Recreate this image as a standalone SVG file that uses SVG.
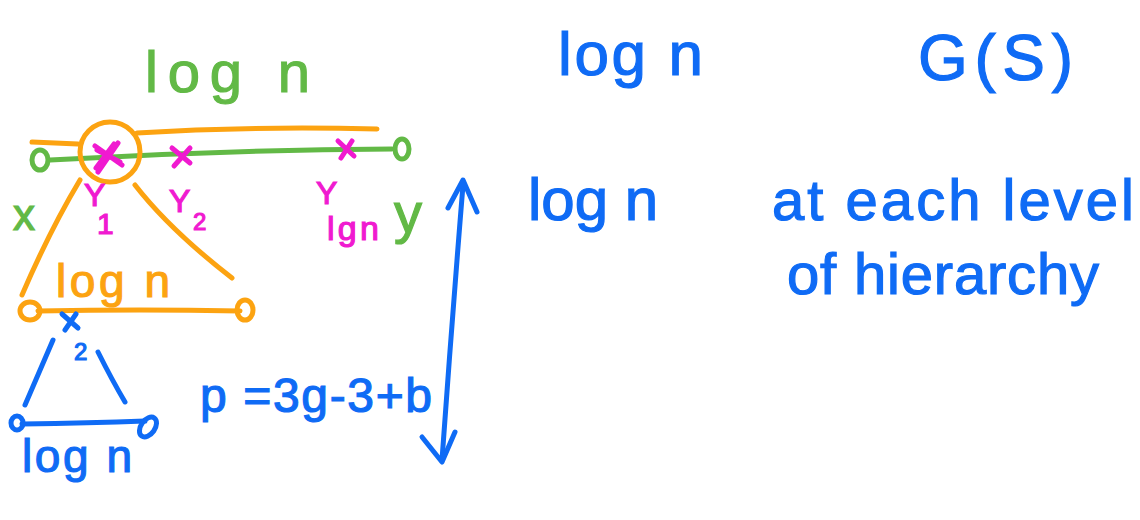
<svg xmlns="http://www.w3.org/2000/svg" width="1140" height="520" viewBox="0 0 1140 520">
<style>
.s{fill:none;stroke-width:5;stroke-linecap:round;stroke-linejoin:round}
.g{stroke:#62b946}.o{stroke:#fca311}.m{stroke:#f01ad0}.b{stroke:#0f6bf5}
.t{font-family:"Liberation Sans","DejaVu Sans",sans-serif;stroke-width:1.2}
.tg{fill:#62b946;stroke:#62b946}.to{fill:#fca311;stroke:#fca311}.tm{fill:#f01ad0;stroke:#f01ad0}.tb{fill:#0f6bf5;stroke:#0f6bf5}
</style>
<rect width="1140" height="520" fill="#fff"/>
<g id="level1">
<text class="t tg" x="145" y="92" font-size="58" textLength="165">log n</text>
<path class="s o" d="M32 142 L78 144"/>
<path class="s o" d="M137 133 Q250 126 377 129"/>
<path class="s g" d="M50 160 Q220 150 392 149"/>
<ellipse class="s g" cx="40" cy="160" rx="8" ry="10"/>
<ellipse class="s g" cx="402" cy="149" rx="7" ry="10"/>
<circle class="s o" cx="110" cy="152" r="30"/>
<path class="s m" d="M95 146 L122 165 M97 150 L120 162 M118 143 L98 172 M114 144 L96 168" stroke-width="6"/>
<path class="s m" d="M172 148 L190 163 M190 148 L174 166"/>
<path class="s m" d="M338 141 L354 156 M352 141 L341 158"/>
<text class="t tg" x="13" y="230" font-size="44">x</text>
<text class="t tg" x="394" y="232" font-size="56">y</text>
<text class="t tm" x="84" y="206" font-size="32">Y</text>
<text class="t tm" x="97" y="234" font-size="30">1</text>
<text class="t tm" x="169" y="212" font-size="32">Y</text>
<text class="t tm" x="193" y="230" font-size="24">2</text>
<text class="t tm" x="316" y="204" font-size="32">Y</text>
<text class="t tm" x="327" y="240" font-size="34" textLength="52">lgn</text>
</g>
<g id="level2">
<path class="s o" d="M80 180 Q50 230 22 295"/>
<path class="s o" d="M135 185 Q170 230 232 278"/>
<text class="t to" x="56" y="297" font-size="46" textLength="114">log n</text>
<path class="s o" d="M38 311 Q140 309 240 311"/>
<ellipse class="s o" cx="30" cy="311" rx="10" ry="9"/>
<ellipse class="s o" cx="245" cy="310" rx="8" ry="10"/>
</g>
<g id="level3">
<path class="s b" d="M62 314 L78 328 M76 314 L65 330"/>
<text class="t tb" x="74" y="360" font-size="24">2</text>
<path class="s b" d="M53 340 L25 405"/>
<path class="s b" d="M98 352 Q112 380 125 402"/>
<path class="s b" d="M22 424 Q90 423 145 421"/>
<ellipse class="s b" cx="17" cy="423" rx="6" ry="7"/>
<ellipse class="s b" cx="148" cy="427" rx="7" ry="11" transform="rotate(35 148 427)"/>
<text class="t tb" x="22" y="472" font-size="46" textLength="110">log n</text>
</g>
<g id="formula">
<text class="t tb" x="200" y="412" font-size="48" textLength="232">p =3g-3+b</text>
</g>
<g id="connectors">
<path class="s b" d="M463 185 Q452 320 442 460"/>
<path class="s b" d="M448 208 L463 180 L477 212"/>
<path class="s b" d="M422 437 L442 462 L455 432"/>
</g>
<g id="notes">
<text class="t tb" x="558" y="75" font-size="62" textLength="145">log n</text>
<text class="t tb" x="528" y="220" font-size="60" textLength="130">log n</text>
<text class="t tb" x="918" y="80" font-size="64" textLength="155">G(S)</text>
<text class="t tb" x="772" y="220" font-size="58" textLength="362">at each level</text>
<text class="t tb" x="787" y="294" font-size="58" textLength="312">of hierarchy</text>
</g>
</svg>
